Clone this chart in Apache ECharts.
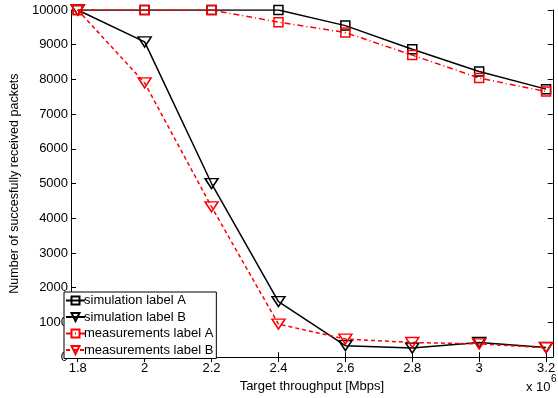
<!DOCTYPE html>
<html>
<head>
<meta charset="utf-8">
<script src="https://cdn.jsdelivr.net/npm/echarts@6/dist/echarts.min.js"></script>
<style>
  html, body { margin: 0; padding: 0; background: #fff; }
  #chart { width: 558px; height: 398px; }
</style>
</head>
<body>
<div id="chart"></div>
<script>
// throughput values (x 10^6)
const xValues = [1.8, 2.0, 2.2, 2.4, 2.6, 2.8, 3.0, 3.2]
const xTicks = [1.8, 2.0, 2.2, 2.4, 2.6, 2.8, 3.0, 3.2]

const simA = [10000, 10000, 10000, 10000, 9550, 8870, 8230, 7720]
const simB = [10000, 9080, 5000, 1600, 330, 260, 420, 280]
const measA = [10000, 10000, 10000, 9650, 9350, 8700, 8040, 7650]
const measB = [10000, 7900, 4330, 950, 520, 420, 380, 270]

const chart = echarts.init(document.getElementById('chart'))

const font = 'Liberation Sans, Arial, sans-serif'
const triDown = 'path://M0,0 L12,0 L6,10 Z'

function pairs(vals) {
  return xValues.map((x, i) => [x, vals[i]])
}

function makeSeries(name, vals, color, symbol, size, dash) {
  return {
    name: name,
    type: 'line',
    data: pairs(vals),
    symbol: symbol,
    symbolSize: size,
    showAllSymbol: true,
    lineStyle: { color: color, width: 1.5, type: dash },
    itemStyle: { color: 'rgba(0,0,0,0)', borderColor: color, borderWidth: 1.5 },
    emphasis: { disabled: true },
    animation: false
  }
}

const option = {
  animation: false,
  grid: { left: 63, right: 1, top: 10, bottom: 39 },
  xAxis: [
    {
      type: 'value',
      min: 1.78,
      max: 3.22,
      name: 'Target throughput [Mbps]',
      nameLocation: 'middle',
      nameGap: 21,
      nameTextStyle: { fontFamily: font, fontSize: 13, color: '#000' },
      axisLine: { lineStyle: { color: '#000', width: 1 } },
      axisTick: { inside: true, length: 5, customValues: xTicks, lineStyle: { color: '#000' } },
      axisLabel: {
        customValues: xTicks,
        formatter: v => String(Math.round(v * 10) / 10),
        fontFamily: font, fontSize: 13, color: '#000', margin: 5
      },
      splitLine: { show: false }
    },
    {
      type: 'value',
      position: 'top',
      min: 1.78,
      max: 3.22,
      axisLine: { lineStyle: { color: '#000', width: 1 } },
      axisTick: { inside: true, length: 5, customValues: xTicks, lineStyle: { color: '#000' } },
      axisLabel: { show: false },
      splitLine: { show: false }
    }
  ],
  yAxis: [
    {
      type: 'value',
      min: 0,
      max: 10000,
      interval: 1000,
      name: 'Number of succesfully received packets',
      nameLocation: 'middle',
      nameGap: 45,
      nameTextStyle: { fontFamily: font, fontSize: 12.5, color: '#000' },
      axisLine: { show: true, lineStyle: { color: '#000', width: 1 } },
      axisTick: { show: true, inside: true, length: 5, lineStyle: { color: '#000' } },
      axisLabel: { fontFamily: font, fontSize: 13, color: '#000', margin: 3, formatter: v => String(v) },
      splitLine: { show: false }
    },
    {
      type: 'value',
      position: 'right',
      min: 0,
      max: 10000,
      interval: 1000,
      axisLine: { show: true, lineStyle: { color: '#000', width: 1 } },
      axisTick: { show: true, inside: true, length: 5, lineStyle: { color: '#000' } },
      axisLabel: { show: false },
      splitLine: { show: false }
    }
  ],
  legend: {
    orient: 'vertical',
    left: 64,
    top: 292,
    itemWidth: 19,
    itemHeight: 10,
    itemGap: 3.5,
    padding: [2, 3, 2, 1],
    backgroundColor: '#fff',
    borderColor: '#000',
    borderWidth: 1,
    textStyle: { fontFamily: font, fontSize: 13, color: '#000', padding: [0, 0, 0, -6] },
    data: ['simulation label A', 'simulation label B', 'measurements label A', 'measurements label B']
  },
  graphic: [
    {
      type: 'text', left: 526, top: 381,
      style: { text: 'x 10', font: '13px ' + font, fill: '#000' }
    },
    {
      type: 'text', left: 551, top: 374,
      style: { text: '6', font: '10px ' + font, fill: '#000' }
    }
  ],
  series: [
    makeSeries('simulation label A', simA, '#000', 'rect', 9, 'solid'),
    makeSeries('simulation label B', simB, '#000', triDown, [13, 10], 'solid'),
    makeSeries('measurements label A', measA, '#f00', 'rect', 9, [6, 3, 1, 3]),
    makeSeries('measurements label B', measB, '#f00', triDown, [13, 10], [4, 3])
  ]
}

chart.setOption(option)
</script>
</body>
</html>
